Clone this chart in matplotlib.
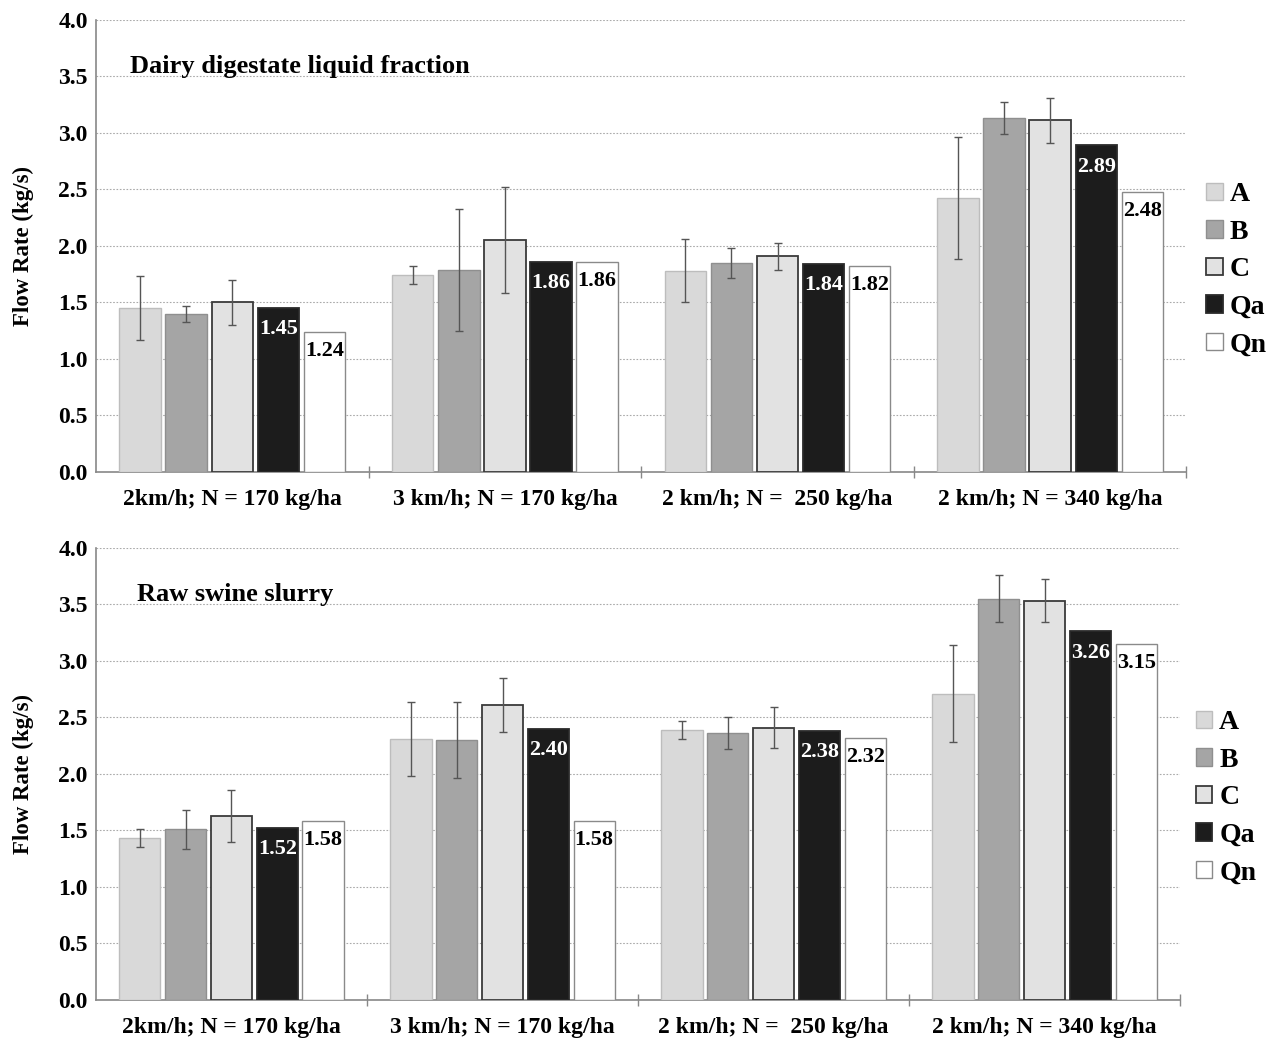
import matplotlib
matplotlib.use("Agg")
import matplotlib.pyplot as plt
import numpy as np

plt.rcParams['font.family'] = ['Liberation Serif', 'DejaVu Serif']
plt.rcParams['font.weight'] = 'bold'

groups = ["2km/h; N = 170 kg/ha", "3 km/h; N = 170 kg/ha",
          "2 km/h; N =  250 kg/ha", "2 km/h; N = 340 kg/ha"]
series = ["A", "B", "C", "Qa", "Qn"]

# Dairy digestate liquid fraction
dairy_A = [1.45, 1.74, 1.78, 2.42]
dairy_B = [1.40, 1.79, 1.85, 3.13]
dairy_C = [1.50, 2.05, 1.91, 3.11]
dairy_Qa = [1.45, 1.86, 1.84, 2.89]
dairy_Qn = [1.24, 1.86, 1.82, 2.48]
dairy_A_err = [0.28, 0.08, 0.28, 0.54]
dairy_B_err = [0.07, 0.54, 0.13, 0.14]
dairy_C_err = [0.20, 0.47, 0.12, 0.20]

# Raw swine slurry
swine_A = [1.43, 2.31, 2.39, 2.71]
swine_B = [1.51, 2.30, 2.36, 3.55]
swine_C = [1.63, 2.61, 2.41, 3.53]
swine_Qa = [1.52, 2.40, 2.38, 3.26]
swine_Qn = [1.58, 1.58, 2.32, 3.15]
swine_A_err = [0.08, 0.33, 0.08, 0.43]
swine_B_err = [0.17, 0.34, 0.14, 0.21]
swine_C_err = [0.23, 0.24, 0.18, 0.19]

colors = ["#d9d9d9", "#a5a5a5", "#e2e2e2", "#1c1c1c", "#ffffff"]
edges = ["#bdbdbd", "#8f8f8f", "#3a3a3a", "#2a2a2a", "#8a8a8a"]

fig = plt.figure(figsize=(12.71, 10.42), dpi=100)
ax1 = fig.add_axes([0.0755, 0.547, 0.858, 0.434])
ax2 = fig.add_axes([0.0755, 0.0403, 0.853, 0.434])


def draw(ax, vals, errs, title, title_x, legend_x):
    x = np.arange(len(groups))
    w = 0.152
    step = 0.169
    for i, (s, v) in enumerate(zip(series, vals)):
        pos = x + (i - 2) * step
        ax.bar(pos, v, width=w, color=colors[i], edgecolor=edges[i],
               linewidth=1.3 if i in (2, 3) else 1.0, label=s, zorder=3)
        if i < 3:
            ax.errorbar(pos, v, yerr=errs[i], fmt='none', ecolor="#555555",
                        elinewidth=1.0, capsize=3, capthick=1.0, zorder=4)
        if i >= 3:
            off = 0.1 if i == 3 else 0.08
            for p, val in zip(pos, v):
                ax.text(p, val - off, f"{val:.2f}", ha='center', va='top',
                        color='white' if i == 3 else 'black', fontsize=16,
                        fontweight='bold', zorder=5)
    ax.set_xlim(-0.5, 3.5)
    ax.set_ylim(0, 4.0)
    ticks = np.arange(0, 4.01, 0.5)
    ax.set_yticks(ticks)
    ax.set_yticklabels([f"{t:.1f}" for t in ticks], fontsize=17, fontweight='bold')
    ax.set_xticks(x)
    ax.set_xticklabels(groups, fontsize=17, fontweight='bold')
    ax.tick_params(axis='x', which='major', length=0, pad=12)
    ax.set_xticks([0.5, 1.5, 2.5, 3.5], minor=True)
    ax.tick_params(axis='x', which='minor', length=8, direction='inout',
                   color="#888888", width=1)
    ax.tick_params(axis='y', length=0, pad=6)
    ax.grid(axis='y', linestyle=(0, (1.5, 1.5)), color="#aaaaaa",
            linewidth=0.8, zorder=0)
    for sp in ['top', 'right']:
        ax.spines[sp].set_visible(False)
    for sp in ['left', 'bottom']:
        ax.spines[sp].set_color("#888888")
        ax.spines[sp].set_linewidth(1.2)
    ax.set_ylabel("Flow Rate (kg/s)", fontsize=16.5, fontweight='bold', labelpad=17)
    ax.text(title_x, 0.897, title, transform=ax.transAxes, fontsize=19,
            fontweight='bold', ha='left', va='center')
    leg = ax.legend(loc='center left', bbox_to_anchor=(legend_x, 0.447),
                    frameon=False, fontsize=20, handlelength=0.6,
                    handleheight=0.6, handletextpad=0.25, labelspacing=0.45,
                    borderaxespad=0)
    for t in leg.get_texts():
        t.set_fontweight('bold')


draw(ax1, [dairy_A, dairy_B, dairy_C, dairy_Qa, dairy_Qn],
     [dairy_A_err, dairy_B_err, dairy_C_err],
     "Dairy digestate liquid fraction", 0.031, 1.008)
draw(ax2, [swine_A, swine_B, swine_C, swine_Qa, swine_Qn],
     [swine_A_err, swine_B_err, swine_C_err],
     "Raw swine slurry", 0.038, 1.004)

fig.savefig("out.png", dpi=100, facecolor='white')
